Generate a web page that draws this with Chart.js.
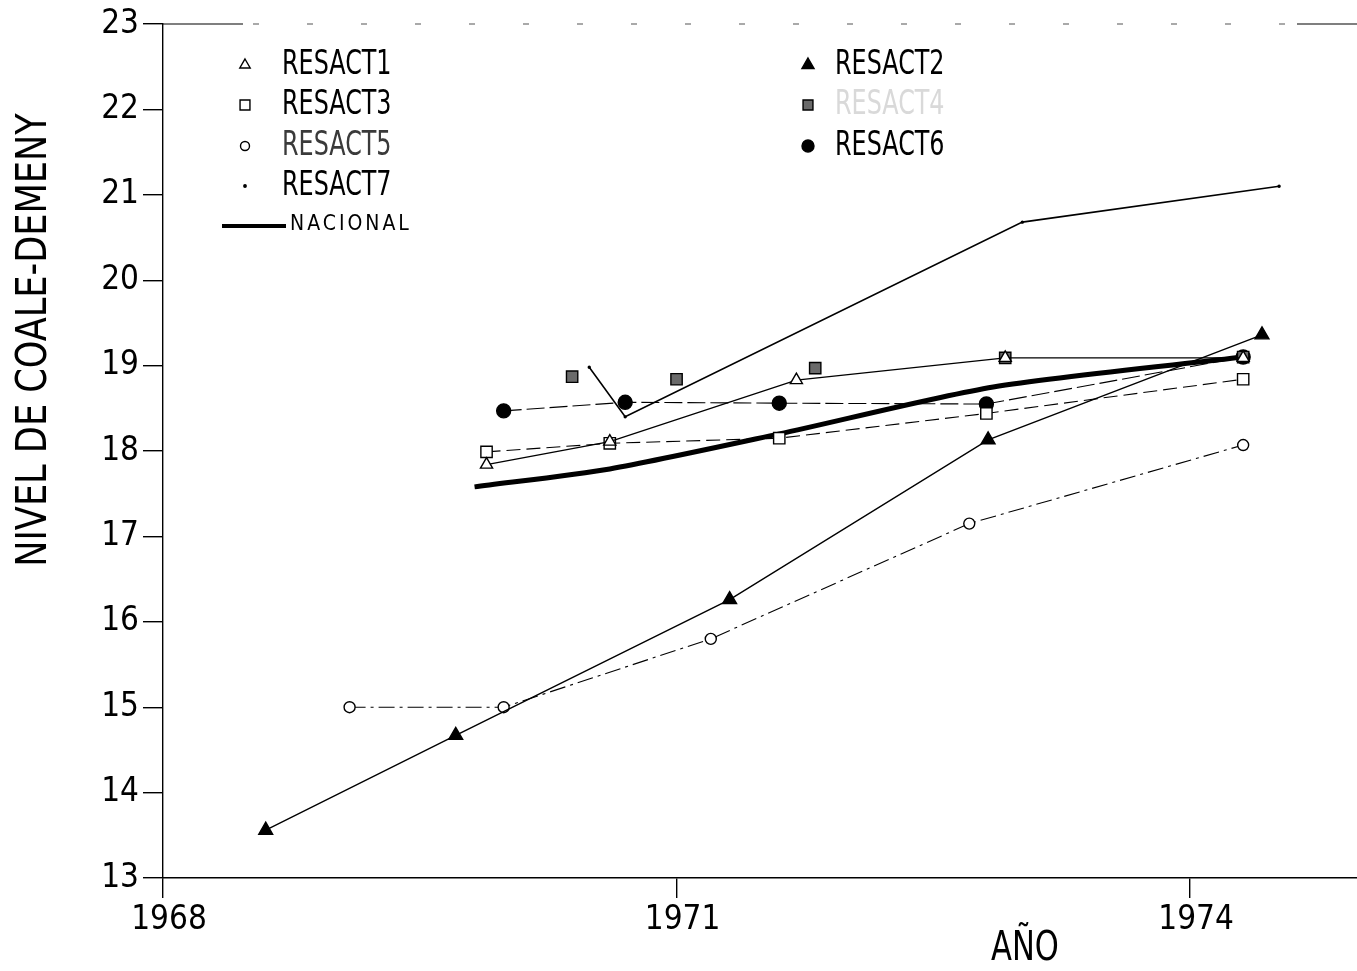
<!DOCTYPE html>
<html><head><meta charset="utf-8">
<script src="https://cdn.jsdelivr.net/npm/chart.js@4.4.1/dist/chart.umd.min.js"></script>
<style>html,body{margin:0;padding:0;background:#fff;}#wrap{width:1357px;height:971px;}</style>
</head><body><div id="wrap"><canvas id="c" width="1357" height="971"></canvas></div>
<script>
// ---------------- data ----------------
const xTickValues = [1968, 1971, 1974];
const yTickValues = [13, 14, 15, 16, 17, 18, 19, 20, 21, 22, 23];

const resact1Years = [1969.89, 1970.61, 1971.70, 1972.92, 1974.31];
const resact1Vals  = [17.84, 18.11, 18.83, 19.09, 19.09];
const resact2Years = [1968.60, 1969.71, 1971.31, 1972.82, 1974.42];
const resact2Vals  = [13.56, 14.67, 16.26, 18.13, 19.36];
const resact3Years = [1969.89, 1970.61, 1971.60, 1972.81, 1974.31];
const resact3Vals  = [17.99, 18.09, 18.15, 18.44, 18.84];
const resact4Years = [1970.39, 1971.00, 1971.81, 1972.92, 1974.31];
const resact4Vals  = [18.87, 18.84, 18.97, 19.09, 19.10];
const resact5Years = [1969.09, 1969.99, 1971.20, 1972.71, 1974.31];
const resact5Vals  = [15.00, 15.00, 15.80, 17.15, 18.07];
const resact6Years = [1969.99, 1970.70, 1971.60, 1972.81, 1974.31];
const resact6Vals  = [18.47, 18.57, 18.56, 18.55, 19.10];
const resact7Years = [1970.49, 1970.70, 1973.02, 1974.52];
const resact7Vals  = [18.98, 18.40, 20.68, 21.10];
const nacionalYears = [1969.82, 1970.61, 1971.60, 1972.85, 1974.31];
const nacionalVals  = [17.58, 17.79, 18.20, 18.75, 19.10];

const seriesNames = ['RESACT1','RESACT2','RESACT3','RESACT4','RESACT5','RESACT6','RESACT7','NACIONAL'];
const yTitle = 'NIVEL DE COALE-DEMENY';
const xTitle = 'AÑO';

// ---------------- styling ----------------
const FONT = "'Liberation Sans Narrow','DejaVu Sans Condensed','Roboto Condensed','Liberation Sans',sans-serif";
const pts = (xs, ys) => xs.map((x, i) => ({x, y: ys[i]}));

function ds(label, xs, ys, o) {
  return Object.assign({
    label, data: pts(xs, ys), borderColor: '#000', borderWidth: 1.4,
    pointBorderColor: '#000', pointBackgroundColor: '#fff', pointBorderWidth: 1.4,
    pointRadius: 6, pointStyle: 'circle', tension: 0, fill: false
  }, o);
}

const datasets = [
  ds(seriesNames[0], resact1Years, resact1Vals, {pointStyle: 'triangle', pointRadius: 7}),
  ds(seriesNames[1], resact2Years, resact2Vals, {pointStyle: 'triangle', pointRadius: 8, pointBackgroundColor: '#000'}),
  ds(seriesNames[2], resact3Years, resact3Vals, {pointStyle: 'rect', pointRadius: 8, borderDash: [14, 6], borderWidth: 1.1}),
  ds(seriesNames[3], resact4Years, resact4Vals, {pointStyle: 'rect', pointRadius: 8, pointBackgroundColor: '#6a6a6a', showLine: false}),
  ds(seriesNames[4], resact5Years, resact5Vals, {pointStyle: 'circle', pointRadius: 5.5, borderDash: [16, 5, 3, 5], borderWidth: 1.1}),
  ds(seriesNames[5], resact6Years, resact6Vals, {pointStyle: 'circle', pointRadius: 7, pointBackgroundColor: '#000', borderDash: [18, 5], borderWidth: 1.1}),
  ds(seriesNames[6], resact7Years, resact7Vals, {pointStyle: 'circle', pointRadius: 1, pointBackgroundColor: '#000', borderWidth: 1.6}),
  ds(seriesNames[7], nacionalYears, nacionalVals, {pointRadius: 0, borderWidth: 5, tension: 0.25})
];

// legend layout
const legendItems = [
  {i: 0, mx: 245, tx: 282, y: 65},
  {i: 2, mx: 245, tx: 282, y: 105},
  {i: 4, mx: 245, tx: 282, y: 146, color: '#3a3a3a'},
  {i: 6, mx: 245, tx: 282, y: 186},
  {i: 1, mx: 808, tx: 835, y: 65},
  {i: 3, mx: 808, tx: 835, y: 105, color: '#d9d9d9'},
  {i: 5, mx: 808, tx: 835, y: 146}
];

function condText(ctx, text, x, y, size, sx, align, color) {
  ctx.save();
  ctx.translate(x, y);
  ctx.scale(sx, 1);
  ctx.font = size + 'px ' + FONT;
  ctx.fillStyle = color || '#000';
  ctx.textAlign = align || 'left';
  ctx.textBaseline = 'middle';
  ctx.fillText(text, 0, 0);
  ctx.restore();
}

const decor = {
  id: 'decor',
  beforeDraw(chart) {
    const c = chart.ctx;
    c.save(); c.fillStyle = '#fff'; c.fillRect(0, 0, chart.width, chart.height); c.restore();
  },
  afterDraw(chart) {
    const c = chart.ctx, a = chart.chartArea;
    // sparse dashed top frame
    c.save();
    c.strokeStyle = '#000'; c.lineWidth = 1.2;
    c.beginPath(); c.moveTo(a.left, a.top); c.lineTo(a.left + 80, a.top); c.stroke();
    c.beginPath(); c.moveTo(a.right - 60, a.top); c.lineTo(a.right, a.top); c.stroke();
    c.setLineDash([6, 48]); c.strokeStyle = '#555';
    c.beginPath(); c.moveTo(a.left + 90, a.top); c.lineTo(a.right - 70, a.top); c.stroke();
    c.restore();
    // titles
    c.save();
    c.translate(35, 340); c.rotate(-Math.PI / 2);
    condText(c, yTitle, 0, 0, 42, 0.93, 'center', '#000');
    c.restore();
    condText(c, xTitle, 1025, 950, 40, 0.85, 'center', '#000');
    // legend
    legendItems.forEach(it => {
      const d = chart.data.datasets[it.i];
      c.save();
      c.fillStyle = d.pointBackgroundColor; c.strokeStyle = d.pointBorderColor; c.lineWidth = d.pointBorderWidth;
      Chart.helpers.drawPoint(c, {pointStyle: d.pointStyle, radius: Math.max(d.pointRadius - 1, 1.2), borderWidth: d.pointBorderWidth, rotation: 0}, it.mx, it.y);
      c.restore();
      condText(c, d.label, it.tx, it.y, 34, 0.78, 'left', it.color);
    });
    // NACIONAL legend line + label
    c.save();
    c.strokeStyle = '#000'; c.lineWidth = 4;
    c.beginPath(); c.moveTo(222, 226); c.lineTo(286, 226); c.stroke();
    c.font = '21px ' + FONT; c.fillStyle = '#000'; c.textBaseline = 'middle';
    if ('letterSpacing' in c) c.letterSpacing = '3px';
    c.fillText(chart.data.datasets[7].label, 290, 225);
    c.restore();
  }
};

new Chart(document.getElementById('c'), {
  type: 'line',
  data: {datasets},
  options: {
    responsive: false, devicePixelRatio: 1, animation: false,
    layout: {autoPadding: false, padding: {top: 24, right: 0, left: 0, bottom: 0}},
    plugins: {legend: {display: false}, tooltip: {enabled: false}},
    scales: {
      x: {
        type: 'linear', min: 1968, max: 1974.975,
        afterBuildTicks: s => { s.ticks = xTickValues.map(v => ({value: v})); },
        afterFit: s => { s.height = 971 - 878; s.paddingLeft = 0; s.paddingRight = 0; },
        grid: {drawOnChartArea: false, drawTicks: true, tickLength: 20, color: '#000', lineWidth: 1.4},
        border: {display: true, color: '#000', width: 1.4},
        ticks: {color: '#000', padding: 3, labelOffset: 6, maxRotation: 0, font: {family: FONT, size: 33}, callback: v => String(v)}
      },
      y: {
        type: 'linear', min: 13, max: 23,
        afterBuildTicks: s => { s.ticks = yTickValues.map(v => ({value: v})); },
        afterFit: s => { s.width = 163; },
        grid: {drawOnChartArea: false, drawTicks: true, tickLength: 20, color: '#000', lineWidth: 1.4},
        border: {display: true, color: '#000', width: 1.4},
        ticks: {color: '#000', padding: 4, font: {family: FONT, size: 33}, callback: v => String(v)}
      }
    }
  },
  plugins: [decor]
});
</script></body></html>
